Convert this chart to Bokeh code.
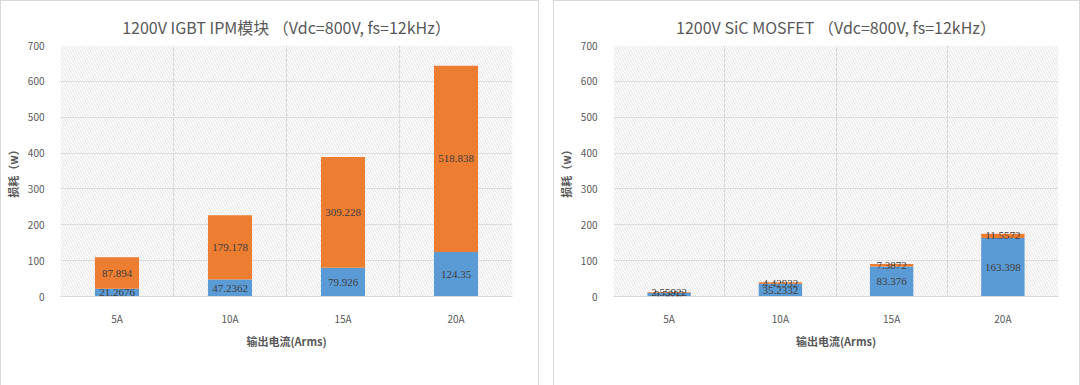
import numpy as np
from bokeh.plotting import figure
from bokeh.models import (ColumnDataSource, FixedTicker, BoxAnnotation, LabelSet,
                          Legend, LegendItem, Range1d)
from bokeh.layouts import row
from bokeh.embed import file_html
from bokeh.resources import INLINE

categories = ["5A", "10A", "15A", "20A"]
igbt_conduction = [21.2676, 47.2362, 79.926, 124.35]
igbt_switching = [87.894, 179.178, 309.228, 518.838]
sic_conduction = [9.5892, 35.2332, 83.376, 163.398]
sic_switching = [2.55922, 4.42932, 7.3872, 11.5572]
y_ticks = [0, 100, 200, 300, 400, 500, 600, 700]
series_names = ["导通损耗", "开关损耗"]
title_igbt = "1200V IGBT IPM模块 （Vdc=800V, fs=12kHz）"
title_sic = "1200V SiC MOSFET （Vdc=800V, fs=12kHz）"
x_title = "输出电流(Arms)"
y_title = "损耗（w）"

BLUE = "#5B9BD5"
ORANGE = "#ED7D31"
GRID = "#D9D9D9"
TXT = "#595959"
FONT = "Noto Sans CJK SC"


def make(title, cond, sw, left, right, fw):
    n = len(categories)
    xs = list(np.arange(n) + 0.5)
    cond = list(cond)
    sw = list(sw)
    src = ColumnDataSource(dict(
        x=xs, cond=cond, sw=sw,
        cond_mid=[c / 2 for c in cond],
        sw_mid=[c + s / 2 for c, s in zip(cond, sw)],
        cond_txt=[f"{v:g}" for v in cond],
        sw_txt=[f"{v:g}" for v in sw],
    ))
    p = figure(frame_width=fw, frame_height=249,
               x_range=Range1d(0, n), y_range=Range1d(0, 700),
               output_backend="svg", toolbar_location=None,
               min_border_left=left, min_border_right=right,
               min_border_top=44, min_border_bottom=76)
    p.outline_line_color = None
    p.styles = {"border": "1px solid #D9D9D9"}

    bg = BoxAnnotation(fill_color=None, hatch_pattern="\\", hatch_color="#E3E3E3",
                       hatch_scale=5, hatch_weight=1, line_color=None, level="underlay")
    p.add_layout(bg)

    rs = p.vbar_stack(["cond", "sw"], x="x", width=0.39, source=src,
                      color=[BLUE, ORANGE], line_color=None)

    for ycol, tcol in (("cond_mid", "cond_txt"), ("sw_mid", "sw_txt")):
        p.add_layout(LabelSet(x="x", y=ycol, text=tcol, source=src,
                              text_align="center", text_baseline="middle",
                              text_font=FONT, text_font_size="11px",
                              text_color="#404040"))

    # axes
    p.xaxis.ticker = FixedTicker(ticks=xs)
    p.xaxis.major_label_overrides = {x: c for x, c in zip(xs, categories)}
    p.yaxis.ticker = FixedTicker(ticks=y_ticks)
    for ax in (p.xaxis[0], p.yaxis[0]):
        ax.major_tick_line_color = None
        ax.minor_tick_line_color = None
        ax.major_label_text_font = FONT
        ax.major_label_text_font_size = "10px"
        ax.major_label_text_color = TXT
        ax.axis_label_text_font = FONT
        ax.axis_label_text_font_size = "11px"
        ax.axis_label_text_color = TXT
        ax.axis_label_text_font_style = "bold"
    p.xaxis.axis_line_color = GRID
    p.yaxis.axis_line_color = None
    p.xaxis.major_label_standoff = 8
    p.yaxis.major_label_standoff = 10
    p.xaxis.axis_label = x_title
    p.yaxis.axis_label = y_title
    p.xaxis.axis_label_standoff = 4
    p.yaxis.axis_label_standoff = 4

    p.xgrid.ticker = FixedTicker(ticks=list(range(n + 1)))
    p.ygrid.ticker = FixedTicker(ticks=y_ticks)
    p.xgrid.grid_line_color = GRID
    p.ygrid.grid_line_color = GRID
    p.xgrid.grid_line_width = 1.2
    p.ygrid.grid_line_width = 1.2

    p.title.text = title
    p.title.align = "center"
    p.title.offset = -27
    p.title.text_font = FONT
    p.title.text_font_size = "16px"
    p.title.text_font_style = "normal"
    p.title.text_color = TXT
    p.title.standoff = 14

    leg = Legend(items=[LegendItem(label=series_names[0], renderers=[rs[0]]),
                        LegendItem(label=series_names[1], renderers=[rs[1]])],
                 orientation="horizontal", location="center",
                 label_text_font=FONT, label_text_font_size="11px",
                 label_text_color=TXT, glyph_width=7, glyph_height=7,
                 label_height=14, label_standoff=3, spacing=14,
                 padding=4, margin=12, border_line_color=None,
                 background_fill_alpha=0)
    p.add_layout(leg, "below")
    return p


p1 = make(title_igbt, igbt_conduction, igbt_switching, 49, 28, 450)
p2 = make(title_sic, sic_conduction, sic_switching, 57, 23, 443)
layout = row(p1, p2, spacing=14)

open("out.html", "w").write(file_html(layout, INLINE))
